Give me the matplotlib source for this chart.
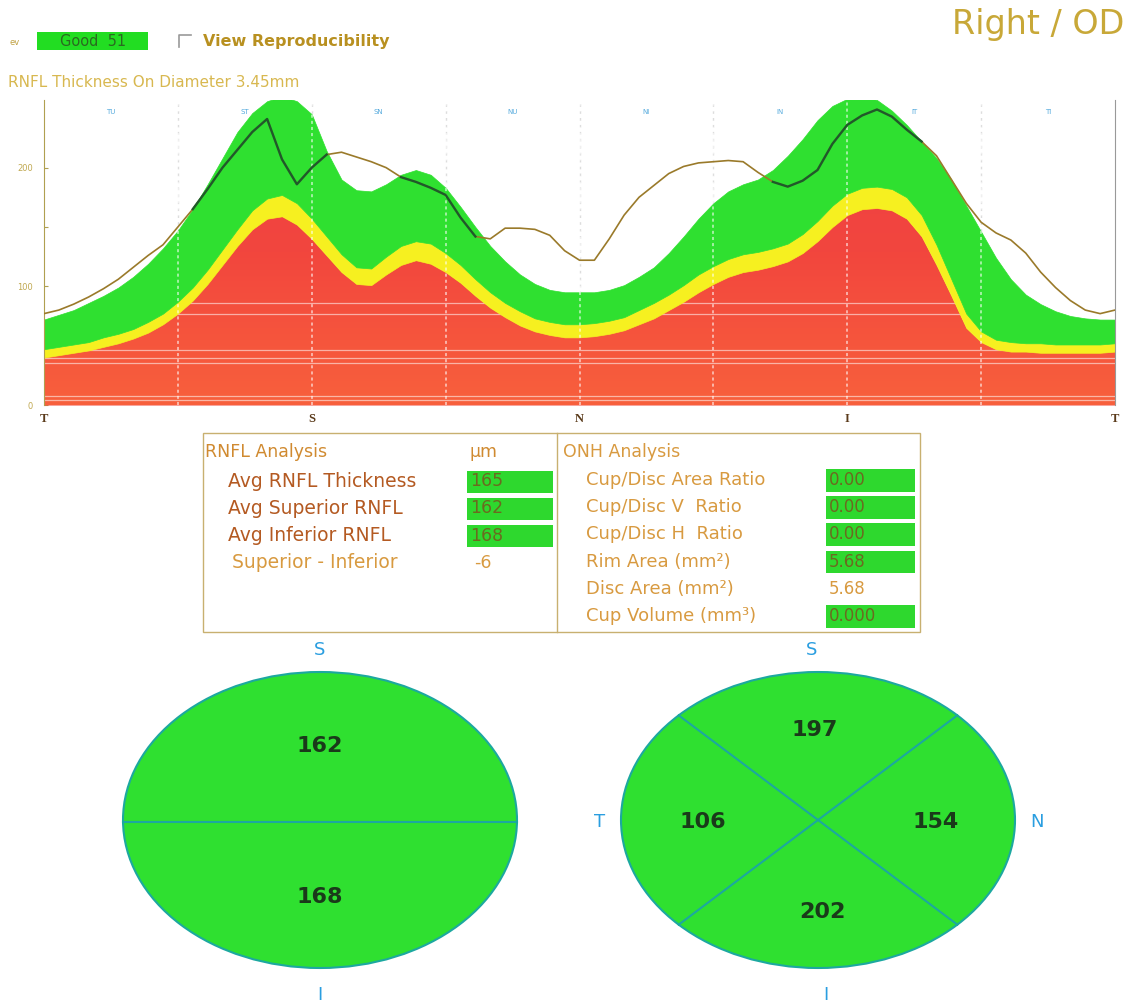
import numpy as np
import matplotlib.pyplot as plt
from matplotlib.patches import Ellipse, Rectangle
from matplotlib.colors import LinearSegmentedColormap

# TSNIT profile, sampled every 5 degrees (T=0, S=90, N=180, I=270, T=360)
angles = np.arange(0, 361, 5)
red_top = [40, 42, 44, 46, 49, 52, 56, 61, 68, 77, 88, 102, 118, 134, 148, 157, 159, 152, 140, 126,
           112, 102, 101, 110, 118, 122, 119, 112, 103, 92, 82, 74, 67, 62, 59, 57, 57, 58, 60, 63,
           68, 73, 80, 87, 95, 102, 108, 112, 114, 117, 121, 128, 138, 150, 160, 165, 166, 164, 157, 142,
           118, 92, 65, 53, 47, 45, 45, 44, 44, 44, 44, 44, 45]
yellow_top = [47, 49, 51, 53, 57, 60, 64, 70, 77, 87, 99, 114, 131, 148, 164, 174, 177, 170, 157, 142,
              127, 116, 115, 125, 134, 138, 136, 128, 118, 106, 95, 86, 79, 73, 70, 68, 68, 69, 71, 74,
              80, 86, 93, 101, 110, 117, 123, 127, 129, 132, 136, 144, 155, 168, 178, 183, 184, 182, 175, 160,
              135, 106, 77, 62, 55, 53, 52, 52, 51, 51, 51, 51, 52]
green_top = [72, 76, 80, 86, 92, 99, 108, 119, 132, 147, 165, 186, 208, 230, 246, 256, 260, 256, 245, 214,
             190, 181, 180, 186, 194, 198, 194, 183, 167, 150, 134, 121, 110, 102, 97, 95, 95, 95, 97, 101,
             108, 116, 128, 142, 157, 170, 180, 186, 190, 198, 210, 224, 240, 252, 258, 260, 257, 248, 236, 222,
             208, 190, 168, 146, 124, 106, 93, 85, 79, 75, 73, 72, 72]
patient = [77, 80, 85, 91, 98, 106, 116, 126, 135, 150, 165, 182, 200, 215, 230, 241, 207, 186, 200, 211,
           213, 209, 205, 200, 192, 188, 183, 177, 158, 142, 140, 149, 149, 148, 143, 130, 122, 122, 140, 160,
           175, 185, 195, 201, 204, 205, 206, 205, 196, 188, 184, 189, 198, 220, 236, 244, 249, 243, 232, 222,
           210, 190, 170, 154, 145, 139, 128, 112, 99, 88, 80, 77, 80]

sector_labels = ['TU', 'ST', 'SN', 'NU', 'NI', 'IN', 'IT', 'TI']
quadrant_ticks = ['T', 'S', 'N', 'I', 'T']
streak_levels = [4, 8, 35, 40, 46, 77, 86]

rnfl_rows = ['Avg RNFL Thickness', 'Avg Superior RNFL', 'Avg Inferior RNFL', 'Superior - Inferior']
rnfl_values = ['165', '162', '168', '-6']
rnfl_boxed = [True, True, True, False]
onh_rows = ['Cup/Disc Area Ratio', 'Cup/Disc V  Ratio', 'Cup/Disc H  Ratio',
            'Rim Area (mm²)', 'Disc Area (mm²)', 'Cup Volume (mm³)']
onh_values = ['0.00', '0.00', '0.00', '5.68', '5.68', '0.000']
onh_boxed = [True, True, True, True, False, True]

hemi_values = [162, 168]                 # superior, inferior
quad_values = [197, 154, 202, 106]        # S, N, I, T

GREEN = '#2fe030'
TEAL = '#1ca8a0'
BLUE = '#2a9ee0'
plt.rcParams['font.family'] = ['DejaVu Sans']

fig = plt.figure(figsize=(11.38, 10.05), dpi=100)

# pixel overlay for all the text / table / circle parts
bg = fig.add_axes([0, 0, 1, 1])
bg.set_xlim(0, 1138)
bg.set_ylim(1005, 0)
bg.axis('off')

# ---- header
bg.text(10, 42, 'ev', fontsize=6, color='#c0a040', va='center')
bg.add_patch(Rectangle((37, 32), 111, 18, color='#22dd22', lw=0))
bg.text(60, 41, 'Good  51', fontsize=10.5, color='#2a6a20', va='center')
bg.plot([179, 179, 191], [47, 35, 35], color='#999999', lw=1.2)
bg.text(203, 41, 'View Reproducibility', fontsize=11.5, fontweight='bold', color='#b89020', va='center')
bg.text(8, 82, 'RNFL Thickness On Diameter 3.45mm', fontsize=11, color='#d8b850', va='center')
bg.text(952, 24, 'Right / OD', fontsize=24, color='#c8a838', va='center')

# ---- TSNIT chart
ax = fig.add_axes([44 / 1138, 1 - 405 / 1005, 1071 / 1138, 305 / 1005])
ax.patch.set_alpha(0)
ymax = 257

for a in range(45, 360, 45):
    ax.axvline(a, color='#dddddd', ls=(0, (2, 3)), lw=1, zorder=1)

red = ax.fill_between(angles, 0, red_top, color='#f24a3c', lw=0, zorder=2)
red_path = red.get_paths()[0]
red_cmap = LinearSegmentedColormap.from_list('red', ['#f8603c', '#f2463e', '#ee3e46'])
grad = ax.imshow(np.linspace(0, 1, 256).reshape(-1, 1), extent=[0, 360, 0, ymax], origin='lower',
                 aspect='auto', cmap=red_cmap, zorder=2.1)
grad.set_clip_path(red_path, ax.transData)
for lvl in streak_levels:
    ln = ax.axhline(lvl, color='white', lw=0.9, alpha=0.55, zorder=2.2)
    ln.set_clip_path(red_path, ax.transData)

ax.fill_between(angles, red_top, yellow_top, color='#f6f020', ec='#f6f020', lw=0.5, zorder=2.3)
ax.fill_between(angles, yellow_top, green_top, color=GREEN, ec=GREEN, lw=0.5, zorder=2.3)

for a in range(45, 360, 45):
    ax.axvline(a, color='white', ls=(0, (2, 2)), lw=1.1, alpha=0.7, zorder=3)

pat = np.array(patient, dtype=float)
ax.plot(angles, pat, color='#9a7a2a', lw=1.2, zorder=4)
ax.plot(angles, np.ma.masked_where(pat > np.array(green_top), pat), color='#1f5a2a', lw=1.7, zorder=5)

for i, lab in enumerate(sector_labels):
    ax.text(22.5 + 45 * i, 247, lab, fontsize=5, color='#55aadd', ha='center', va='center')

ax.set_xlim(0, 360)
ax.set_ylim(0, ymax)
ax.set_xticks(range(0, 361, 90))
ax.set_xticklabels(quadrant_ticks, fontsize=9, color='#5a3a1a', family='Liberation Serif', fontweight='bold')
ax.tick_params(axis='x', length=0, pad=6)
ax.set_yticks([0, 50, 100, 150, 200])
ax.set_yticklabels(['0', '', '100', '', '200'], fontsize=6, color='#c0a850')
ax.tick_params(axis='y', direction='in', length=3, color='#b0a050', pad=8)
ax.spines['top'].set_visible(False)
ax.spines['bottom'].set_visible(False)
ax.spines['left'].set_color('#b0a050')
ax.spines['right'].set_color('#999999')

# ---- analysis tables
tcol = '#c8b070'
bg.add_patch(Rectangle((203, 433), 717, 199, fill=False, ec=tcol, lw=1))
bg.plot([557, 557], [433, 632], color=tcol, lw=1)
bg.text(205, 452, 'RNFL Analysis', fontsize=12.5, color='#d08a30', va='center')
bg.text(470, 452, 'µm', fontsize=12.5, color='#d08a30', va='center')
for i, (lab, val, boxed) in enumerate(zip(rnfl_rows, rnfl_values, rnfl_boxed)):
    y = 481 + 27.3 * i
    col = '#b45a22' if boxed else '#d89a40'
    bg.text(228 if boxed else 232, y, lab, fontsize=13.5, color=col, va='center')
    if boxed:
        bg.add_patch(Rectangle((467, y - 10.5), 86, 22, color='#2ed82e', lw=0))
    bg.text(470 if boxed else 474, y, val, fontsize=12.5, color='#6b6a20' if boxed else '#d89a40', va='center')

bg.text(563, 452, 'ONH Analysis', fontsize=12.5, color='#d89a40', va='center')
for i, (lab, val, boxed) in enumerate(zip(onh_rows, onh_values, onh_boxed)):
    y = 480 + 27.2 * i
    bg.text(586, y, lab, fontsize=13, color='#d89a40', va='center')
    if boxed:
        bg.add_patch(Rectangle((826, y - 11), 89, 22.5, color='#2ed82e', lw=0))
    bg.text(829, y, val, fontsize=12, color='#6b6a20' if boxed else '#d89a40', va='center')

# ---- hemisphere / quadrant circles
a, b = 197, 148
num_kw = dict(fontsize=16, fontweight='bold', color='#1a3a1a', ha='center', va='center')
lab_kw = dict(fontsize=13, color=BLUE, ha='center', va='center')

cx, cy = 320, 820
bg.add_patch(Ellipse((cx, cy), 2 * a, 2 * b, fc=GREEN, ec=TEAL, lw=1.5))
bg.plot([cx - a, cx + a], [cy + 2, cy + 2], color=TEAL, lw=1.5)
bg.text(cx, cy - 74, str(hemi_values[0]), **num_kw)
bg.text(cx, cy + 77, str(hemi_values[1]), **num_kw)
bg.text(cx, cy - 170, 'S', **lab_kw)
bg.text(cx, cy + 175, 'I', **lab_kw)

cx, cy = 818, 820
bg.add_patch(Ellipse((cx, cy), 2 * a, 2 * b, fc=GREEN, ec=TEAL, lw=1.5))
for t in (45, 135):
    r = np.deg2rad(t)
    bg.plot([cx - a * np.cos(r), cx + a * np.cos(r)], [cy - b * np.sin(r), cy + b * np.sin(r)],
            color=TEAL, lw=1.5)
bg.text(cx - 3, cy - 90, str(quad_values[0]), **num_kw)
bg.text(cx + 118, cy + 2, str(quad_values[1]), **num_kw)
bg.text(cx + 4, cy + 92, str(quad_values[2]), **num_kw)
bg.text(cx - 115, cy + 2, str(quad_values[3]), **num_kw)
bg.text(cx - 6, cy - 170, 'S', **lab_kw)
bg.text(cx + 219, cy + 2, 'N', **lab_kw)
bg.text(cx + 8, cy + 175, 'I', **lab_kw)
bg.text(cx - 218, cy + 2, 'T', **lab_kw)

fig.savefig('out.png', dpi=100)
